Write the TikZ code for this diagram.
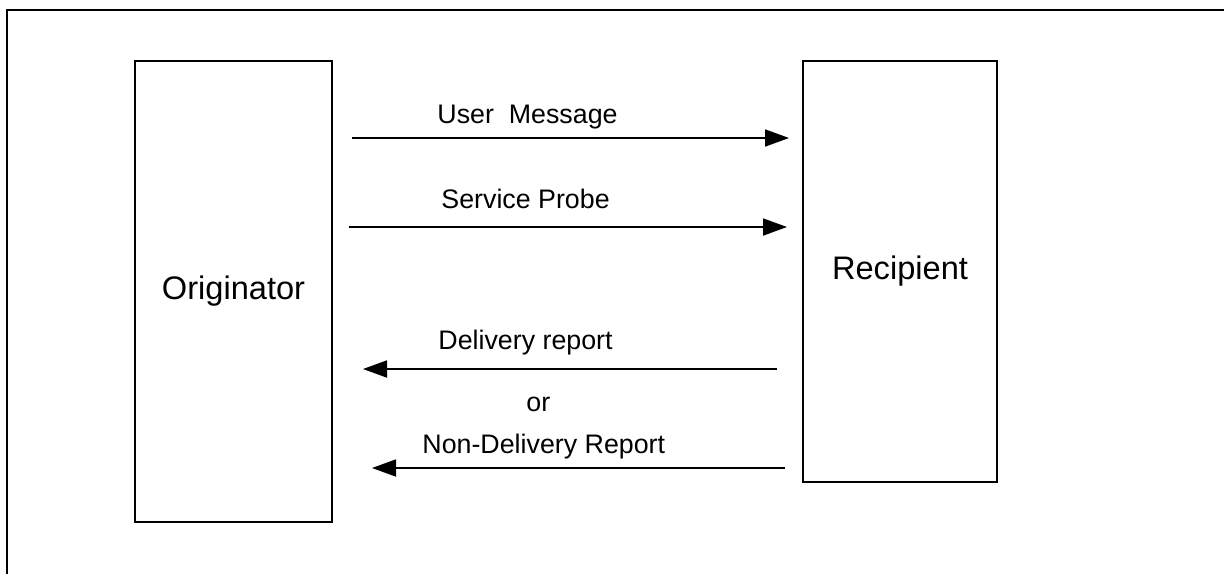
\documentclass[tikz,border=0pt]{standalone}
\usepackage{fontspec}
\setmainfont{Liberation Sans}
\usetikzlibrary{arrows.meta}
\tikzset{
  party/.style={draw, line width=1.2pt, minimum width=#1, inner sep=0pt, font=\fontsize{16.3}{19}\selectfont},
  msg/.style={line width=0.9pt, -{Triangle[length=12pt, width=8.5pt]}},
  msglabel/.style={anchor=base west, inner sep=0pt, font=\fontsize{13.4}{16}\selectfont},
}
\begin{document}
\begin{tikzpicture}[x=0.5pt, y=-0.5pt]
  \useasboundingbox (0,0) rectangle (1224,574);
  % open frame: top and left edges
  \draw[line width=1pt] (7,574) -- (7,10) -- (1224,10);

  % the two parties
  \node[party=98.5pt, minimum height=230.5pt] (orig) at (233.5,291.5) {Originator};
  \node[party=97pt, minimum height=210.5pt] (recip) at (900,271.5) {Recipient};

  % free ends of the message arrows
  \coordinate (um-a) at (352,138);  \coordinate (um-b) at (789,138);
  \coordinate (sp-a) at (349,227);  \coordinate (sp-b) at (787,227);
  \coordinate (dr-a) at (777,369);  \coordinate (dr-b) at (363,369);
  \coordinate (nd-a) at (785,468);  \coordinate (nd-b) at (372,468);

  % originator to recipient
  \draw[msg] (um-a) -- (um-b);
  \node[msglabel] (um-l) at (437,123) {User\ \ Message};
  \draw[msg] (sp-a) -- (sp-b);
  \node[msglabel] (sp-l) at (441,208) {Service Probe};

  % recipient back to originator
  \draw[msg] (dr-a) -- (dr-b);
  \node[msglabel] (dr-l) at (438,349) {Delivery report};
  \node[msglabel] (or-l) at (526,411) {or};
  \draw[msg] (nd-a) -- (nd-b);
  \node[msglabel] (nd-l) at (422,453) {Non-Delivery Report};
\end{tikzpicture}
\end{document}
